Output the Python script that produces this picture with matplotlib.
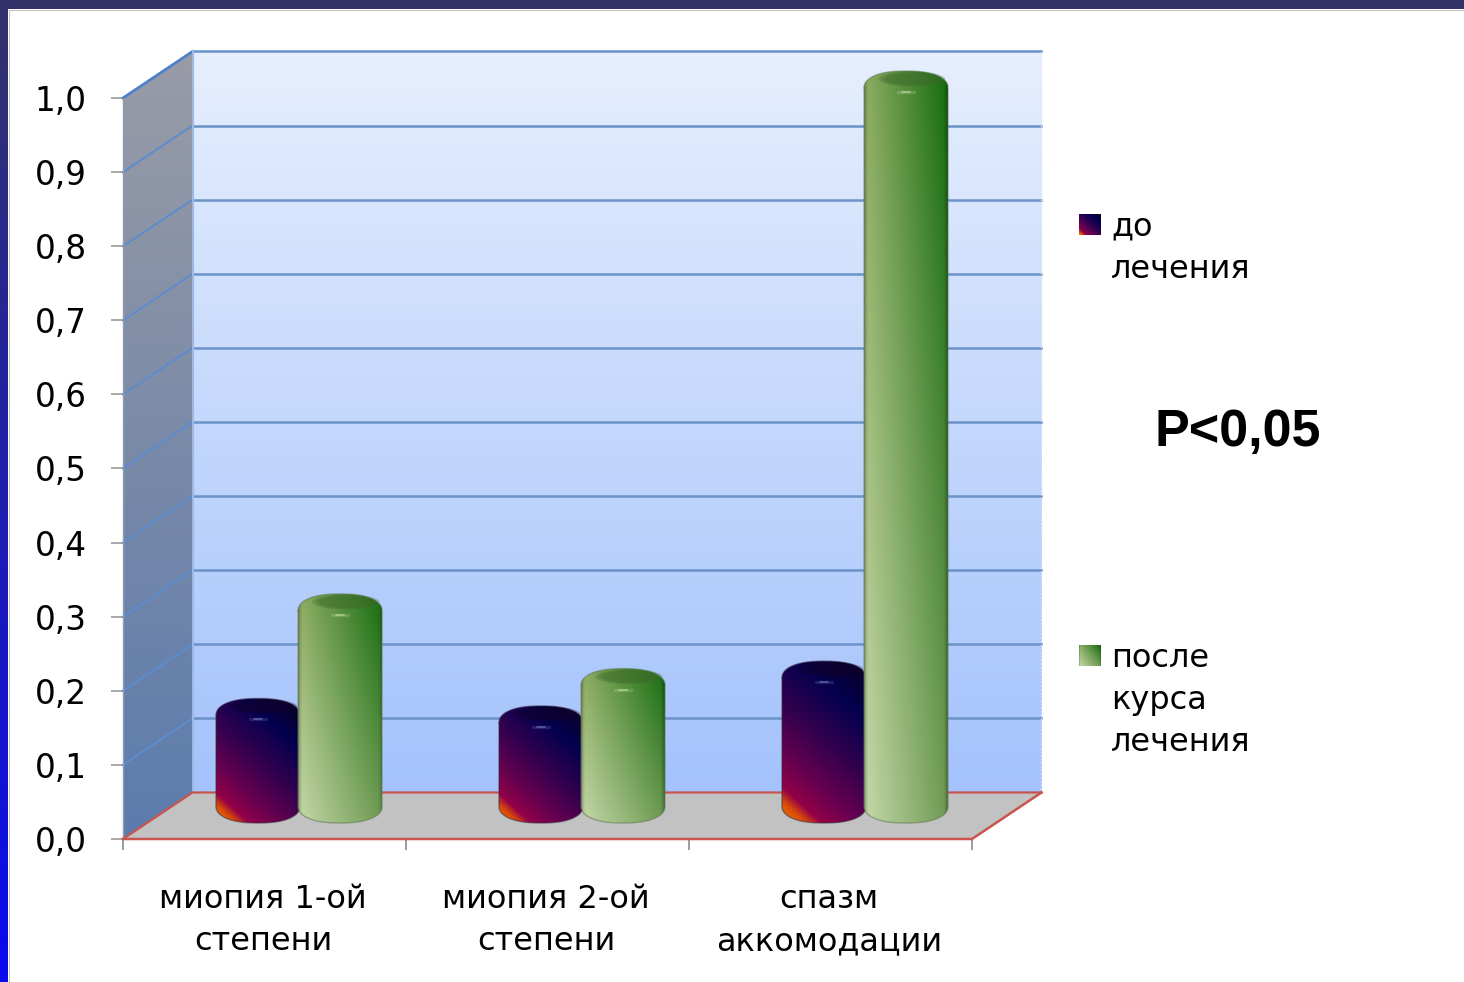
import numpy as np
import matplotlib
matplotlib.use("Agg")
import matplotlib.pyplot as plt
from matplotlib.colors import LinearSegmentedColormap, to_rgb
from matplotlib.lines import Line2D
from matplotlib.patches import Polygon, PathPatch
from matplotlib.path import Path

categories = ["миопия 1-ой\nстепени", "миопия 2-ой\nстепени", "спазм\nаккомодации"]
before = [0.16, 0.15, 0.21]
after = [0.30, 0.20, 1.00]
y_ticks = [0.0, 0.1, 0.2, 0.3, 0.4, 0.5, 0.6, 0.7, 0.8, 0.9, 1.0]
legend_before = "до\nлечения"
legend_after = "после\nкурса\nлечения"
note = "P<0,05"

W, H = 1464, 982
fig = plt.figure(figsize=(W / 100, H / 100), dpi=100, facecolor="white")

LABEL_FONT = "DejaVu Sans"
AX_L, AX_R, AX_T, AX_B = 123, 972, 98, 839
ax = fig.add_axes([AX_L / W, 1 - AX_B / H, (AX_R - AX_L) / W, (AX_B - AX_T) / H])
ax.set_xlim(0, 3)
ax.set_ylim(0, 1)
ax.patch.set_visible(False)
for s in ax.spines.values():
    s.set_visible(False)

# 3D box depth, in data units
DX = 69.5 / 283
DY = 46.5 / 741


# slide frame
def frame_strip(rect, top, bottom):
    a = fig.add_axes(rect, zorder=-5)
    a.axis("off")
    cm = LinearSegmentedColormap.from_list("f", [top, bottom])
    a.imshow(np.linspace(0, 1, 256)[:, None], cmap=cm, aspect="auto")


frame_strip([0, 1 - 9 / H, 1, 9 / H], "#33336a", "#34346a")
frame_strip([0, 0, 8 / W, 1], "#33336a", "#0a0af0")
fig.add_artist(Line2D([8.5 / W, 1], [1 - 9.5 / H] * 2, color="#c4c4c8", lw=0.8))
fig.add_artist(Line2D([8.5 / W] * 2, [0, 1 - 9.5 / H], color="#c4c4c8", lw=0.8))

# back wall
cm_wall = LinearSegmentedColormap.from_list("wall", ["#a4c2fd", "#c4d8fc", "#e6effe"])
wall = cm_wall(np.linspace(0, 1, 256))[:, None, :3]
ax.imshow(wall, extent=[DX, 3 + DX, DY, 1 + DY], origin="lower", aspect="auto",
          zorder=1, clip_on=False)

# side wall
side_poly = Polygon([(0, 0), (DX, DY), (DX, 1 + DY), (0, 1)], closed=True,
                    transform=ax.transData, fc="none", ec="none")
ax.add_patch(side_poly)
cm_side = LinearSegmentedColormap.from_list("side", ["#5c7cae", "#7a8aa8", "#999ca6"])
side = ax.imshow(cm_side(np.linspace(0, 1, 256))[:, None, :3],
                 extent=[0, DX, 0, 1 + DY], origin="lower", aspect="auto", zorder=1)
side.set_clip_box(fig.bbox)
side.set_clip_path(side_poly)

# grid lines on both walls
GRID = "#6b93c9"
for v in y_ticks[1:]:
    ax.plot([DX, 3 + DX], [v + DY, v + DY], color=GRID, lw=1.8, zorder=2, clip_on=False)
    ax.plot([0, DX], [v, v + DY], color="#5c8cd0", lw=1.4, zorder=2, clip_on=False)
ax.plot([0, DX], [1, 1 + DY], color="#4f82cc", lw=2, zorder=2, clip_on=False)
ax.plot([DX, DX], [DY, 1 + DY], color="#9db8e2", lw=1.5, zorder=2, clip_on=False)
ax.plot([0, 0], [0, 1], color="#8f9bb0", lw=1, zorder=2, clip_on=False)
ax.plot([3 + DX, 3 + DX], [DY, 1 + DY], color="#dfe6f4", lw=1, ls=":", zorder=2, clip_on=False)

# floor
floor = Polygon([(0, 0), (3, 0), (3 + DX, DY), (DX, DY)], closed=True, fc="#c2c2c2",
                ec="none", zorder=2, clip_on=False)
ax.add_patch(floor)
RED = "#c9554e"
ax.plot([0, 3, 3 + DX], [0, 0, DY], color=RED, lw=1.8, zorder=3, clip_on=False)
ax.plot([0, DX, 3 + DX], [0, DY, DY], color=RED, lw=1.6, zorder=3, clip_on=False)

# cylinders: the crown of each one reads its value at mid-depth of the box
HALF_W = 42 / 283
ELL_H = 17 / 741
FOOT_Y = 16 / 741          # lowest point of the base
CROWN_Y = 21 / 741         # level of a zero-height crown
BAR_SCALE = 747 / 741


def arc(cx, cy, sign, t):
    """Slightly squared half ellipse, giving the cylinders rounded shoulders."""
    c, s = np.cos(t), np.sin(t)
    x = np.sign(c) * np.abs(c) ** 0.85
    y = np.abs(s) ** 0.9
    return np.c_[cx + HALF_W * x, cy + sign * ELL_H * y]


def silhouette(cx, crown):
    t = np.linspace(0, np.pi, 90)
    upper = arc(cx, crown - ELL_H, 1, t[::-1])
    lower = arc(cx, FOOT_Y + ELL_H, -1, t)
    return np.r_[upper, lower, upper[:1]]


def cap_shape(cx, crown, scale):
    t = np.linspace(0, 2 * np.pi, 120)
    return np.c_[cx + 0.02 + scale * 0.8 * HALF_W * np.cos(t),
                 crown - 8 / 741 + scale * 7.5 / 741 * np.sin(t)]


def rim_shade(nx):
    u = np.linspace(-1, 1, nx)
    return 1 - 0.34 * np.clip((np.abs(u) - 0.88) / 0.12, 0, 1) ** 2


def green_pixels(ny=200, nx=120):
    bl, br = np.array(to_rgb("#c6d9aa")), np.array(to_rgb("#6e9a52"))
    tl, tr = np.array(to_rgb("#90ad63")), np.array(to_rgb("#156c10"))
    v, u = np.meshgrid(np.linspace(0, 1, ny), np.linspace(0, 1, nx), indexing="ij")
    u = u[..., None]
    v = v[..., None]
    img = (1 - v) * ((1 - u) * bl + u * br) + v * ((1 - u) * tl + u * tr)
    return np.clip(img * rim_shade(nx)[None, :, None], 0, 1)


CM_DARK = LinearSegmentedColormap.from_list(
    "dark", [(0, "#ee8000"), (0.09, "#d84a08"), (0.15, "#920048"), (0.3, "#640050"),
             (0.5, "#34004e"), (0.75, "#04004e"), (1, "#0a0020")])


def dark_pixels(height, ny=200, nx=120):
    v, u = np.meshgrid(np.linspace(0, 1, ny), np.linspace(0, 1, nx), indexing="ij")
    # gradient axis leans with the bar height, so the warm corner stays at the foot
    t = (u * 84 + v * height * 1.1) / (84 + height * 1.1)
    return CM_DARK(t)[..., :3]


def cylinder(cx, value, kind, z):
    crown = CROWN_Y + value * BAR_SCALE
    outline = silhouette(cx, crown)
    clip = PathPatch(Path(outline), transform=ax.transData, fc="none", ec="none")
    ax.add_patch(clip)
    extent = [cx - HALF_W, cx + HALF_W, FOOT_Y, crown]
    img = green_pixels() if kind == "green" else dark_pixels((crown - FOOT_Y) * 741)
    im = ax.imshow(img, extent=extent, origin="lower", aspect="auto", zorder=z)
    im.set_clip_box(fig.bbox)
    im.set_clip_path(clip)
    edge = "#5f7a50" if kind == "green" else "#3a2a40"
    ax.plot(outline[:, 0], outline[:, 1], color=edge, lw=1.0, alpha=0.55, zorder=z + 0.1,
            clip_on=False)
    # the cap fades out through a few nested shapes
    cap = "#3f6a2a" if kind == "green" else "#12002c"
    for scale in (1.0, 0.9, 0.8):
        cap_patch = Polygon(cap_shape(cx, crown, scale), closed=True, fc=cap, ec="none",
                            alpha=0.25, zorder=z + 0.2, clip_on=False)
        ax.add_patch(cap_patch)
        cap_patch.set_clip_path(clip)
    glow = "#d4ecbc" if kind == "green" else "#7f90cc"
    level = crown - 21 / 741
    ax.plot([cx - 0.028, cx + 0.028], [level, level], color=glow, lw=2.4, alpha=0.22,
            solid_capstyle="round", zorder=z + 0.3, clip_on=False)
    ax.plot([cx - 0.015, cx + 0.015], [level, level], color=glow, lw=1.2, alpha=0.55,
            solid_capstyle="round", zorder=z + 0.3, clip_on=False)


for i, (b, a) in enumerate(zip(before, after)):
    cylinder(i + 0.477, b, "dark", 4 + i)
    cylinder(i + 0.767, a, "green", 4.5 + i)

ax.set_xlim(0, 3)
ax.set_ylim(0, 1)

# axes
ax.set_yticks(y_ticks)
ax.set_yticklabels([f"{v:.1f}".replace(".", ",") for v in y_ticks],
                   fontsize=23.5, fontfamily=LABEL_FONT, color="black")
ax.tick_params(axis="y", length=9, width=1.2, color="#9a9a9a", pad=17)
ax.set_xticks([0, 1, 2, 3])
ax.set_xticklabels([])
ax.tick_params(axis="x", which="major", length=8, width=1.2, color="#8a8a8a")
ax.set_xticks([0.495, 1.495, 2.495], minor=True)
ax.set_xticklabels(categories, minor=True, fontsize=23, fontfamily=LABEL_FONT,
                   linespacing=1.46, color="black")
ax.tick_params(axis="x", which="minor", length=0, pad=32.5)


# legend
def swatch(y_px, img):
    a = fig.add_axes([1079 / W, 1 - (y_px + 21) / H, 22 / W, 21 / H])
    a.axis("off")
    a.imshow(img, origin="lower", aspect="auto")


swatch(214, dark_pixels(84))
swatch(645, green_pixels())
fig.text(1111 / W, 1 - 248 / H, legend_before, fontsize=23, fontfamily=LABEL_FONT,
         ha="left", va="center", linespacing=1.46)
fig.text(1111 / W, 1 - 700.5 / H, legend_after, fontsize=23, fontfamily=LABEL_FONT,
         ha="left", va="center", linespacing=1.46)
fig.text(1237.5 / W, 1 - 432 / H, note, fontsize=37.5, fontweight="bold",
         fontfamily="Liberation Sans", ha="center", va="center")

fig.savefig("out.png", dpi=100)
